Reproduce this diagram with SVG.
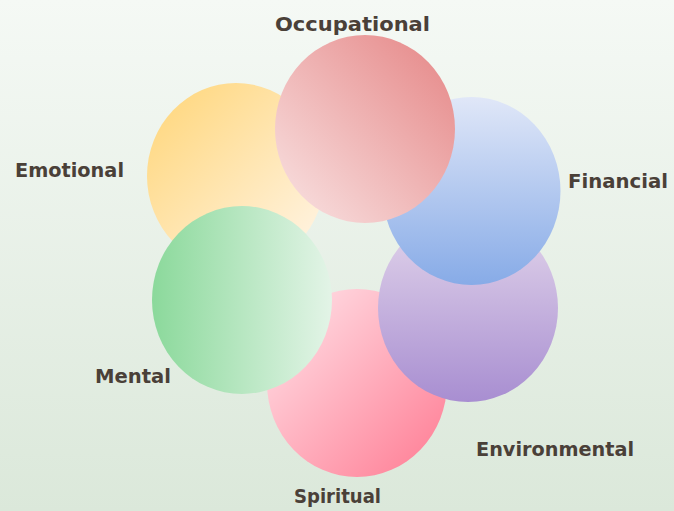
<svg xmlns="http://www.w3.org/2000/svg" width="674" height="511" viewBox="0 0 674 511">
  <defs>
    <linearGradient id="bg" x1="0" y1="0" x2="0" y2="1">
      <stop offset="0" stop-color="#f5f9f5"/>
      <stop offset="1" stop-color="#dbe8da"/>
    </linearGradient>
    <linearGradient id="gYellow" x1="0.15" y1="0.15" x2="0.85" y2="0.85">
      <stop offset="0" stop-color="#ffda88"/>
      <stop offset="1" stop-color="#fff1da"/>
    </linearGradient>
    <linearGradient id="gRed" x1="0.85" y1="0.15" x2="0.15" y2="0.85">
      <stop offset="0" stop-color="#e89393"/>
      <stop offset="1" stop-color="#f6d6d6"/>
    </linearGradient>
    <linearGradient id="gBlue" x1="0" y1="0" x2="0" y2="1">
      <stop offset="0" stop-color="#e0e7f8"/>
      <stop offset="1" stop-color="#87abe7"/>
    </linearGradient>
    <linearGradient id="gPurple" x1="0" y1="0" x2="0" y2="1">
      <stop offset="0" stop-color="#e3d6eb"/>
      <stop offset="1" stop-color="#a88ed1"/>
    </linearGradient>
    <linearGradient id="gPink" x1="0.15" y1="0.15" x2="0.85" y2="0.85">
      <stop offset="0" stop-color="#ffd6de"/>
      <stop offset="1" stop-color="#ff8a9f"/>
    </linearGradient>
    <linearGradient id="gGreen" x1="0" y1="0" x2="1" y2="0">
      <stop offset="0" stop-color="#8bd99b"/>
      <stop offset="1" stop-color="#e3f4e7"/>
    </linearGradient>
  </defs>
  <style>
    .lbl { font-family: "DejaVu Sans", "Liberation Sans", sans-serif; font-weight: bold; font-size: 20px; fill: #4a4038; }
  </style>
  <rect x="0" y="0" width="674" height="511" fill="url(#bg)"/>
  <g id="emotional">
    <ellipse cx="236" cy="176" rx="89" ry="93" fill="url(#gYellow)"/>
    <text class="lbl" x="15" y="177" textLength="109" lengthAdjust="spacingAndGlyphs">Emotional</text>
  </g>
  <g id="spiritual">
    <ellipse cx="357" cy="383" rx="90" ry="94" fill="url(#gPink)"/>
    <text class="lbl" x="294" y="503" textLength="87" lengthAdjust="spacingAndGlyphs">Spiritual</text>
  </g>
  <g id="environmental">
    <ellipse cx="468" cy="308" rx="90" ry="94" fill="url(#gPurple)"/>
    <text class="lbl" x="476" y="456" textLength="158" lengthAdjust="spacingAndGlyphs">Environmental</text>
  </g>
  <g id="financial">
    <ellipse cx="471.5" cy="191" rx="89" ry="94" fill="url(#gBlue)"/>
    <text class="lbl" x="568" y="188" textLength="100" lengthAdjust="spacingAndGlyphs">Financial</text>
  </g>
  <g id="occupational">
    <ellipse cx="365" cy="129" rx="90" ry="94" fill="url(#gRed)"/>
    <text class="lbl" x="275" y="31" textLength="155" lengthAdjust="spacingAndGlyphs">Occupational</text>
  </g>
  <g id="mental">
    <ellipse cx="242" cy="300" rx="90" ry="94" fill="url(#gGreen)"/>
    <text class="lbl" x="95" y="383" textLength="76" lengthAdjust="spacingAndGlyphs">Mental</text>
  </g>
  <g id="connectors"/>
</svg>
